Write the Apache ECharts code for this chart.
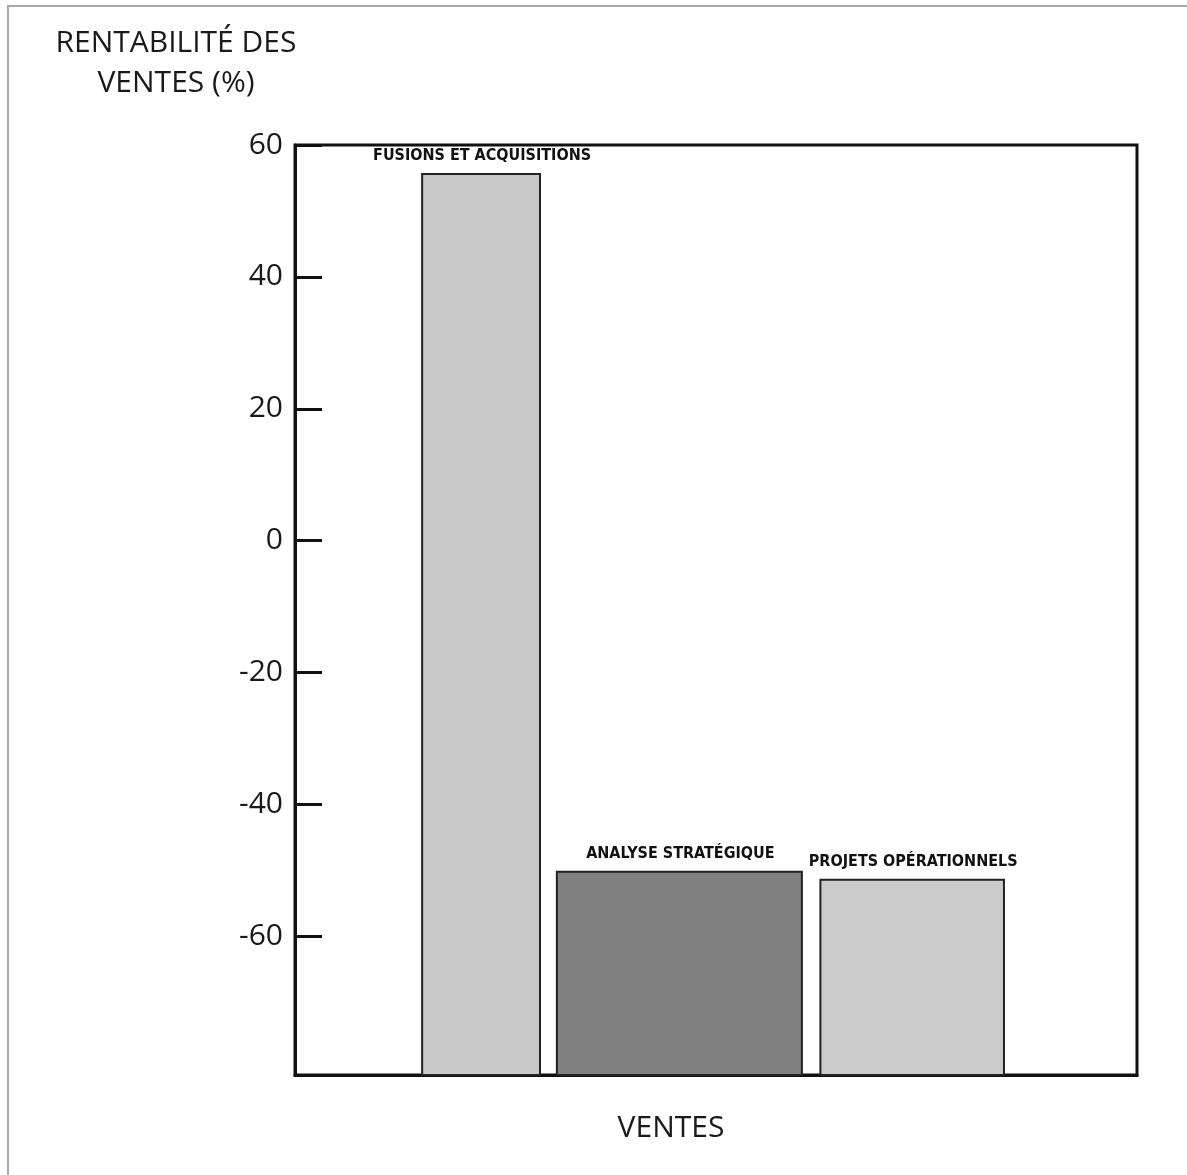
<!DOCTYPE html>
<html>
<head>
<meta charset="utf-8">
<script src="https://cdn.jsdelivr.net/npm/echarts@6/dist/echarts.min.js"></script>
<style>
  html, body { margin: 0; padding: 0; background: #fff; }
  #chart { position: absolute; left: 0; top: 0; width: 1187px; height: 1175px; }
  #frame { position: absolute; left: 7px; top: 5px; width: 1200px; height: 1200px;
           border-left: 2px solid #a8a8a8; border-top: 2px solid #a8a8a8; pointer-events: none; }
</style>
</head>
<body>
<div id="chart"></div>
<div id="frame"></div>
<script>
// ---- data ----
const categories = ['FUSIONS ET ACQUISITIONS', 'ANALYSE STRATÉGIQUE', 'PROJETS OPÉRATIONNELS'];
const xStart = [15.1, 31.1, 62.4];   // position of bar start along the sales axis
const xEnd   = [29.1, 60.2, 84.2];   // position of bar end along the sales axis
const values = [55.6, -50.2, -51.4]; // rentabilité des ventes (%)
const barColors = ['#c9c9c9', '#808080', '#cbcbcb'];
const yTicks = [-60, -40, -20, 0, 20, 40, 60];
const yMin = -81, yMax = 60;
const yTitle = 'RENTABILITÉ DES\nVENTES (%)';
const xTitle = 'VENTES';

const seriesData = categories.map((c, i) => [xStart[i], xEnd[i], values[i], i]);

const chart = echarts.init(document.getElementById('chart'));
chart.setOption({
  backgroundColor: 'transparent',
  animation: false,
  grid: { left: 295, right: 50, top: 145, bottom: 100, show: true,
          borderColor: '#111', borderWidth: 3, backgroundColor: 'transparent' },
  xAxis: {
    type: 'value', min: 0, max: 100,
    axisLine: { show: true, onZero: false, lineStyle: { color: '#111', width: 3 } },
    axisTick: { show: false }, axisLabel: { show: false }, splitLine: { show: false }
  },
  yAxis: {
    type: 'value', min: yMin, max: yMax,
    axisLine: { show: true, lineStyle: { color: '#111', width: 3 } },
    axisTick: { show: true, inside: true, length: 27, customValues: yTicks,
                lineStyle: { color: '#111', width: 3 } },
    axisLabel: { show: true, customValues: yTicks, margin: 12, color: '#1a1a1a',
                 fontFamily: 'Open Sans', fontSize: 30 },
    splitLine: { show: false }
  },
  graphic: [
    { type: 'text', x: 176, y: 23, style: { text: yTitle, textAlign: 'center',
      fontFamily: 'Open Sans', fontSize: 30, lineHeight: 40, fill: '#1a1a1a' } },
    { type: 'text', x: 671, y: 1113, style: { text: xTitle, textAlign: 'center',
      fontFamily: 'Open Sans', fontSize: 30, fill: '#1a1a1a' } }
  ],
  series: [{
    type: 'custom',
    data: seriesData,
    encode: { x: [0, 1], y: 2 },
    renderItem: function (params, api) {
      const x0 = api.value(0), x1 = api.value(1), v = api.value(2), idx = api.value(3);
      const p0 = api.coord([x0, yMin]);
      const p1 = api.coord([x1, v]);
      return {
        type: 'group',
        children: [
          { type: 'rect',
            shape: { x: p0[0], y: p1[1], width: p1[0] - p0[0], height: p0[1] - p1[1] },
            style: { fill: barColors[idx], stroke: '#222', lineWidth: 2 } },
          { type: 'text',
            style: { text: categories[idx], x: (p0[0] + p1[0]) / 2 + 1, y: p1[1] - 10,
                     textAlign: 'center', textVerticalAlign: 'bottom',
                     fontFamily: 'DejaVu Sans Condensed', fontWeight: 'bold',
                     fontSize: 16, fill: '#111' } }
        ]
      };
    }
  }]
});
</script>
</body>
</html>
